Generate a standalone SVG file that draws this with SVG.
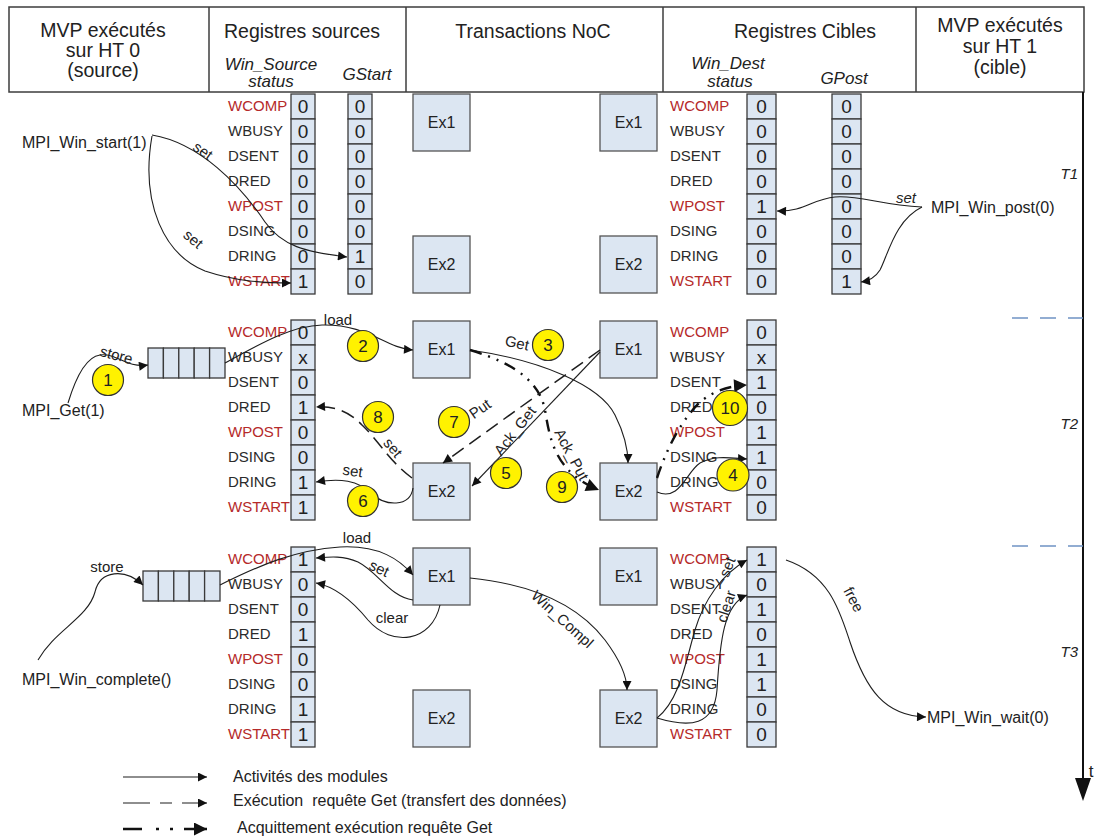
<svg xmlns="http://www.w3.org/2000/svg" width="1094" height="836" viewBox="0 0 1094 836">
<style>
.bg{fill:#fff}
.hdr{fill:#fff;stroke:#3c3c3c;stroke-width:1.5}
.ht{font-family:"Liberation Sans",Arial,sans-serif;font-size:19.5px;fill:#222;text-anchor:middle}
.hi{font-family:"Liberation Sans",Arial,sans-serif;font-size:17px;font-style:italic;fill:#222;text-anchor:middle}
.cell{fill:#DCE6F2;stroke:#3a3a3a;stroke-width:1.3}
.v{font-family:"Liberation Sans",Arial,sans-serif;font-size:19px;fill:#222;text-anchor:middle}
.lb{font-family:"Liberation Sans",Arial,sans-serif;font-size:15px;fill:#2b2b2b}
.r{fill:#B52A2A}
.ex{fill:#DCE6F2;stroke:#555;stroke-width:1.3}
.et{font-family:"Liberation Sans",Arial,sans-serif;font-size:16px;fill:#222;text-anchor:middle}
.t{font-family:"Liberation Sans",Arial,sans-serif;font-size:16px;fill:#222}
.tc{font-family:"Liberation Sans",Arial,sans-serif;font-size:15px;fill:#222;text-anchor:middle}
.ti{font-family:"Liberation Sans",Arial,sans-serif;font-size:15px;font-style:italic;fill:#222}
.c{fill:none;stroke:#1e1e1e;stroke-width:1.1}
.d{fill:none;stroke:#1e1e1e;stroke-width:1.5;stroke-dasharray:14 7}
.dd{fill:none;stroke:#111;stroke-width:2.4;stroke-dasharray:12 7 2 7 2 7}
.num{fill:#FFF200;stroke:#333;stroke-width:1.2}
.nt{font-family:"Liberation Sans",Arial,sans-serif;font-size:17px;fill:#222;text-anchor:middle}
.sep{stroke:#6F93C4;stroke-width:1.5;stroke-dasharray:16 12}
.lg{font-family:"Liberation Sans",Arial,sans-serif;font-size:16px;fill:#222;white-space:pre}
</style>
<defs>
<marker id="a" viewBox="0 0 10 10" refX="10" refY="5" markerWidth="11" markerHeight="9" orient="auto" markerUnits="userSpaceOnUse"><path d="M0,0 L10,5 L0,10 z" fill="#111"/></marker>
<marker id="b" viewBox="0 0 10 10" refX="10" refY="5" markerWidth="16" markerHeight="13" orient="auto" markerUnits="userSpaceOnUse"><path d="M0,0 L10,5 L0,10 z" fill="#111"/></marker>
</defs>
<rect class="bg" x="0" y="0" width="1094" height="836"/>

<g id="header">
<rect class="hdr" x="9" y="7" width="1075" height="85"/>
<line x1="209" y1="7" x2="209" y2="92" stroke="#3c3c3c" stroke-width="1.5"/>
<line x1="406" y1="7" x2="406" y2="92" stroke="#3c3c3c" stroke-width="1.5"/>
<line x1="663" y1="7" x2="663" y2="92" stroke="#3c3c3c" stroke-width="1.5"/>
<line x1="916" y1="7" x2="916" y2="92" stroke="#3c3c3c" stroke-width="1.5"/>
<text class="ht" x="103" y="37">MVP exécutés</text>
<text class="ht" x="103" y="57">sur HT 0</text>
<text class="ht" x="103" y="77">(source)</text>
<text class="ht" x="302" y="38">Registres sources</text>
<text class="hi" x="271" y="70">Win_Source</text>
<text class="hi" x="271" y="87">status</text>
<text class="hi" x="367" y="80">GStart</text>
<text class="ht" x="533" y="38">Transactions NoC</text>
<text class="ht" x="805" y="38">Registres Cibles</text>
<text class="hi" x="728" y="69">Win_Dest</text>
<text class="hi" x="730" y="87">status</text>
<text class="hi" x="844" y="84">GPost</text>
<text class="ht" x="1000" y="32">MVP exécutés</text>
<text class="ht" x="1000" y="53">sur HT 1</text>
<text class="ht" x="1000" y="74">(cible)</text>
</g>

<g id="timeaxis">
<line x1="1083" y1="92" x2="1083" y2="782" stroke="#111" stroke-width="2"/>
<polygon points="1075,778 1091,778 1083,801" fill="#111"/>
<text class="ht" x="1091" y="777" style="font-size:17px">t</text>
<line class="sep" x1="1012" y1="318" x2="1083" y2="318"/>
<line class="sep" x1="1012" y1="546" x2="1083" y2="546"/>
<text class="ti" x="1078" y="179" text-anchor="end">T1</text>
<text class="ti" x="1078" y="429" text-anchor="end">T2</text>
<text class="ti" x="1078" y="657" text-anchor="end">T3</text>
</g>

<!-- ============ T1 ============ -->
<g id="t1-src-labels">
<text class="lb r" x="228" y="111">WCOMP</text>
<text class="lb" x="228" y="136">WBUSY</text>
<text class="lb" x="228" y="161">DSENT</text>
<text class="lb" x="228" y="186">DRED</text>
<text class="lb r" x="228" y="211">WPOST</text>
<text class="lb" x="228" y="236">DSING</text>
<text class="lb" x="228" y="261">DRING</text>
<text class="lb r" x="228" y="286">WSTART</text>
</g>
<g id="t1-winsource">
<rect class="cell" x="291" y="94" width="24" height="25"/><text class="v" x="303" y="113">0</text>
<rect class="cell" x="291" y="119" width="24" height="25"/><text class="v" x="303" y="138">0</text>
<rect class="cell" x="291" y="144" width="24" height="25"/><text class="v" x="303" y="163">0</text>
<rect class="cell" x="291" y="169" width="24" height="25"/><text class="v" x="303" y="188">0</text>
<rect class="cell" x="291" y="194" width="24" height="25"/><text class="v" x="303" y="213">0</text>
<rect class="cell" x="291" y="219" width="24" height="25"/><text class="v" x="303" y="238">0</text>
<rect class="cell" x="291" y="244" width="24" height="25"/><text class="v" x="303" y="263">0</text>
<rect class="cell" x="291" y="269" width="24" height="25"/><text class="v" x="303" y="288">1</text>
</g>
<g id="t1-gstart">
<rect class="cell" x="348" y="94" width="24" height="25"/><text class="v" x="360" y="113">0</text>
<rect class="cell" x="348" y="119" width="24" height="25"/><text class="v" x="360" y="138">0</text>
<rect class="cell" x="348" y="144" width="24" height="25"/><text class="v" x="360" y="163">0</text>
<rect class="cell" x="348" y="169" width="24" height="25"/><text class="v" x="360" y="188">0</text>
<rect class="cell" x="348" y="194" width="24" height="25"/><text class="v" x="360" y="213">0</text>
<rect class="cell" x="348" y="219" width="24" height="25"/><text class="v" x="360" y="238">0</text>
<rect class="cell" x="348" y="244" width="24" height="25"/><text class="v" x="360" y="263">1</text>
<rect class="cell" x="348" y="269" width="24" height="25"/><text class="v" x="360" y="288">0</text>
</g>
<g id="t1-ex1-src"><rect class="ex" x="413" y="94" width="57" height="57"/><text class="et" x="441.5" y="128">Ex1</text></g>
<g id="t1-ex2-src"><rect class="ex" x="413" y="236" width="57" height="57"/><text class="et" x="441.5" y="270">Ex2</text></g>
<g id="t1-ex1-dst"><rect class="ex" x="600" y="94" width="57" height="57"/><text class="et" x="628.5" y="128">Ex1</text></g>
<g id="t1-ex2-dst"><rect class="ex" x="600" y="236" width="57" height="57"/><text class="et" x="628.5" y="270">Ex2</text></g>
<g id="t1-dst-labels">
<text class="lb r" x="670" y="111">WCOMP</text>
<text class="lb" x="670" y="136">WBUSY</text>
<text class="lb" x="670" y="161">DSENT</text>
<text class="lb" x="670" y="186">DRED</text>
<text class="lb r" x="670" y="211">WPOST</text>
<text class="lb" x="670" y="236">DSING</text>
<text class="lb" x="670" y="261">DRING</text>
<text class="lb r" x="670" y="286">WSTART</text>
</g>
<g id="t1-windest">
<rect class="cell" x="747" y="94" width="29" height="25"/><text class="v" x="761.5" y="113">0</text>
<rect class="cell" x="747" y="119" width="29" height="25"/><text class="v" x="761.5" y="138">0</text>
<rect class="cell" x="747" y="144" width="29" height="25"/><text class="v" x="761.5" y="163">0</text>
<rect class="cell" x="747" y="169" width="29" height="25"/><text class="v" x="761.5" y="188">0</text>
<rect class="cell" x="747" y="194" width="29" height="25"/><text class="v" x="761.5" y="213">1</text>
<rect class="cell" x="747" y="219" width="29" height="25"/><text class="v" x="761.5" y="238">0</text>
<rect class="cell" x="747" y="244" width="29" height="25"/><text class="v" x="761.5" y="263">0</text>
<rect class="cell" x="747" y="269" width="29" height="25"/><text class="v" x="761.5" y="288">0</text>
</g>
<g id="t1-gpost">
<rect class="cell" x="832" y="94" width="29" height="25"/><text class="v" x="846.5" y="113">0</text>
<rect class="cell" x="832" y="119" width="29" height="25"/><text class="v" x="846.5" y="138">0</text>
<rect class="cell" x="832" y="144" width="29" height="25"/><text class="v" x="846.5" y="163">0</text>
<rect class="cell" x="832" y="169" width="29" height="25"/><text class="v" x="846.5" y="188">0</text>
<rect class="cell" x="832" y="194" width="29" height="25"/><text class="v" x="846.5" y="213">0</text>
<rect class="cell" x="832" y="219" width="29" height="25"/><text class="v" x="846.5" y="238">0</text>
<rect class="cell" x="832" y="244" width="29" height="25"/><text class="v" x="846.5" y="263">0</text>
<rect class="cell" x="832" y="269" width="29" height="25"/><text class="v" x="846.5" y="288">1</text>
</g>
<g id="t1-mpi-start"><text class="t" x="22" y="148">MPI_Win_start(1)</text></g>
<g id="t1-mpi-post"><text class="t" x="931" y="213">MPI_Win_post(0)</text></g>

<!-- ============ T2 ============ -->
<g id="t2-src-labels">
<text class="lb r" x="228" y="337">WCOMP</text>
<text class="lb" x="228" y="362">WBUSY</text>
<text class="lb" x="228" y="387">DSENT</text>
<text class="lb" x="228" y="412">DRED</text>
<text class="lb r" x="228" y="437">WPOST</text>
<text class="lb" x="228" y="462">DSING</text>
<text class="lb" x="228" y="487">DRING</text>
<text class="lb r" x="228" y="512">WSTART</text>
</g>
<g id="t2-winsource">
<rect class="cell" x="291" y="320" width="24" height="25"/><text class="v" x="303" y="339">0</text>
<rect class="cell" x="291" y="345" width="24" height="25"/><text class="v" x="303" y="364">x</text>
<rect class="cell" x="291" y="370" width="24" height="25"/><text class="v" x="303" y="389">0</text>
<rect class="cell" x="291" y="395" width="24" height="25"/><text class="v" x="303" y="414">1</text>
<rect class="cell" x="291" y="420" width="24" height="25"/><text class="v" x="303" y="439">0</text>
<rect class="cell" x="291" y="445" width="24" height="25"/><text class="v" x="303" y="464">0</text>
<rect class="cell" x="291" y="470" width="24" height="25"/><text class="v" x="303" y="489">1</text>
<rect class="cell" x="291" y="495" width="24" height="25"/><text class="v" x="303" y="514">1</text>
</g>
<g id="t2-queue">
<rect class="cell" x="148" y="348" width="15.4" height="30"/>
<rect class="cell" x="163.4" y="348" width="15.4" height="30"/>
<rect class="cell" x="178.8" y="348" width="15.4" height="30"/>
<rect class="cell" x="194.2" y="348" width="15.4" height="30"/>
<rect class="cell" x="209.6" y="348" width="15.4" height="30"/>
</g>
<g id="t2-ex1-src"><rect class="ex" x="413" y="321" width="57" height="57"/><text class="et" x="441.5" y="355">Ex1</text></g>
<g id="t2-ex2-src"><rect class="ex" x="413" y="463" width="57" height="57"/><text class="et" x="441.5" y="497">Ex2</text></g>
<g id="t2-ex1-dst"><rect class="ex" x="600" y="321" width="57" height="57"/><text class="et" x="628.5" y="355">Ex1</text></g>
<g id="t2-ex2-dst"><rect class="ex" x="600" y="463" width="57" height="57"/><text class="et" x="628.5" y="497">Ex2</text></g>
<g id="t2-dst-labels">
<text class="lb r" x="670" y="337">WCOMP</text>
<text class="lb" x="670" y="362">WBUSY</text>
<text class="lb" x="670" y="387">DSENT</text>
<text class="lb" x="670" y="412">DRED</text>
<text class="lb r" x="670" y="437">WPOST</text>
<text class="lb" x="670" y="462">DSING</text>
<text class="lb" x="670" y="487">DRING</text>
<text class="lb r" x="670" y="512">WSTART</text>
</g>
<g id="t2-windest">
<rect class="cell" x="747" y="320" width="29" height="25"/><text class="v" x="761.5" y="339">0</text>
<rect class="cell" x="747" y="345" width="29" height="25"/><text class="v" x="761.5" y="364">x</text>
<rect class="cell" x="747" y="370" width="29" height="25"/><text class="v" x="761.5" y="389">1</text>
<rect class="cell" x="747" y="395" width="29" height="25"/><text class="v" x="761.5" y="414">0</text>
<rect class="cell" x="747" y="420" width="29" height="25"/><text class="v" x="761.5" y="439">1</text>
<rect class="cell" x="747" y="445" width="29" height="25"/><text class="v" x="761.5" y="464">1</text>
<rect class="cell" x="747" y="470" width="29" height="25"/><text class="v" x="761.5" y="489">0</text>
<rect class="cell" x="747" y="495" width="29" height="25"/><text class="v" x="761.5" y="514">0</text>
</g>
<g id="t2-mpi-get"><text class="t" x="22" y="416">MPI_Get(1)</text></g>

<!-- ============ T3 ============ -->
<g id="t3-src-labels">
<text class="lb r" x="228" y="564">WCOMP</text>
<text class="lb" x="228" y="589">WBUSY</text>
<text class="lb" x="228" y="614">DSENT</text>
<text class="lb" x="228" y="639">DRED</text>
<text class="lb r" x="228" y="664">WPOST</text>
<text class="lb" x="228" y="689">DSING</text>
<text class="lb" x="228" y="714">DRING</text>
<text class="lb r" x="228" y="739">WSTART</text>
</g>
<g id="t3-winsource">
<rect class="cell" x="291" y="547" width="24" height="25"/><text class="v" x="303" y="566">1</text>
<rect class="cell" x="291" y="572" width="24" height="25"/><text class="v" x="303" y="591">0</text>
<rect class="cell" x="291" y="597" width="24" height="25"/><text class="v" x="303" y="616">0</text>
<rect class="cell" x="291" y="622" width="24" height="25"/><text class="v" x="303" y="641">1</text>
<rect class="cell" x="291" y="647" width="24" height="25"/><text class="v" x="303" y="666">0</text>
<rect class="cell" x="291" y="672" width="24" height="25"/><text class="v" x="303" y="691">0</text>
<rect class="cell" x="291" y="697" width="24" height="25"/><text class="v" x="303" y="716">1</text>
<rect class="cell" x="291" y="722" width="24" height="25"/><text class="v" x="303" y="741">1</text>
</g>
<g id="t3-queue">
<rect class="cell" x="143" y="571" width="15.4" height="30"/>
<rect class="cell" x="158.4" y="571" width="15.4" height="30"/>
<rect class="cell" x="173.8" y="571" width="15.4" height="30"/>
<rect class="cell" x="189.2" y="571" width="15.4" height="30"/>
<rect class="cell" x="204.6" y="571" width="15.4" height="30"/>
</g>
<g id="t3-ex1-src"><rect class="ex" x="413" y="548" width="57" height="57"/><text class="et" x="441.5" y="582">Ex1</text></g>
<g id="t3-ex2-src"><rect class="ex" x="413" y="690" width="57" height="57"/><text class="et" x="441.5" y="724">Ex2</text></g>
<g id="t3-ex1-dst"><rect class="ex" x="600" y="548" width="57" height="57"/><text class="et" x="628.5" y="582">Ex1</text></g>
<g id="t3-ex2-dst"><rect class="ex" x="600" y="690" width="57" height="57"/><text class="et" x="628.5" y="724">Ex2</text></g>
<g id="t3-dst-labels">
<text class="lb r" x="670" y="564">WCOMP</text>
<text class="lb" x="670" y="589">WBUSY</text>
<text class="lb" x="670" y="614">DSENT</text>
<text class="lb" x="670" y="639">DRED</text>
<text class="lb r" x="670" y="664">WPOST</text>
<text class="lb" x="670" y="689">DSING</text>
<text class="lb" x="670" y="714">DRING</text>
<text class="lb r" x="670" y="739">WSTART</text>
</g>
<g id="t3-windest">
<rect class="cell" x="747" y="547" width="29" height="25"/><text class="v" x="761.5" y="566">1</text>
<rect class="cell" x="747" y="572" width="29" height="25"/><text class="v" x="761.5" y="591">0</text>
<rect class="cell" x="747" y="597" width="29" height="25"/><text class="v" x="761.5" y="616">1</text>
<rect class="cell" x="747" y="622" width="29" height="25"/><text class="v" x="761.5" y="641">0</text>
<rect class="cell" x="747" y="647" width="29" height="25"/><text class="v" x="761.5" y="666">1</text>
<rect class="cell" x="747" y="672" width="29" height="25"/><text class="v" x="761.5" y="691">1</text>
<rect class="cell" x="747" y="697" width="29" height="25"/><text class="v" x="761.5" y="716">0</text>
<rect class="cell" x="747" y="722" width="29" height="25"/><text class="v" x="761.5" y="741">0</text>
</g>
<g id="t3-mpi-complete"><text class="t" x="22" y="685">MPI_Win_complete()</text></g>
<g id="t3-mpi-wait"><text class="t" x="927" y="723">MPI_Win_wait(0)</text></g>

<!-- ============ connectors ============ -->
<g id="connectors">
<!-- T1 -->
<path class="c" d="M152,135 C200,143 240,185 265,222 C282,246 305,252 347,257" marker-end="url(#a)"/>
<path class="c" d="M152,136 C140,205 165,255 205,271 C235,281 262,283 291,283" marker-end="url(#a)"/>
<path class="c" d="M922,207 C880,205 860,195 835,197 C812,199 805,212 777,211" marker-end="url(#a)"/>
<path class="c" d="M922,207 C895,220 888,255 880,270 C875,278 868,281 861,282" marker-end="url(#a)"/>
<!-- T2 -->
<path class="c" d="M68,403 C75,380 85,357 100,355 C118,353 125,368 148,365" marker-end="url(#a)"/>
<path class="c" d="M225,363 C258,345 290,326 322,325 C368,324 385,348 413,350" marker-end="url(#a)"/>
<path class="c" d="M470,350 C540,360 600,385 615,415 C625,435 628,450 628,463" marker-end="url(#a)"/>
<path class="dd" d="M470,350 C520,365 540,385 545,410 C550,440 555,472 599,490" marker-end="url(#b)"/>
<path class="d" d="M600,350 L443,463" marker-end="url(#a)"/>
<path class="c" d="M600,352 L472,486" marker-end="url(#a)"/>
<path class="d" d="M412,478 C390,462 378,440 362,425 C348,410 332,406 316,407" marker-end="url(#a)"/>
<path class="c" d="M413,488 C410,508 385,506 372,494 C358,480 340,478 316,482" marker-end="url(#a)"/>
<path class="c" d="M657,492 C680,502 686,472 700,463 C715,455 730,458 747,459" marker-end="url(#a)"/>
<path class="dd" d="M657,478 C668,445 682,420 700,402 C715,390 730,386 747,385" marker-end="url(#b)"/>
<!-- T3 -->
<path class="c" d="M38,660 C55,630 88,618 95,592 C100,570 125,568 143,585" marker-end="url(#a)"/>
<path class="c" d="M220,585 C260,565 295,550 340,547 C380,545 400,560 413,575" marker-end="url(#a)"/>
<path class="c" d="M413,600 C390,597 378,572 358,562 C342,555 328,557 316,558" marker-end="url(#a)"/>
<path class="c" d="M440,605 C432,642 392,648 368,620 C350,598 332,586 316,583" marker-end="url(#a)"/>
<path class="c" d="M470,578 C540,585 582,610 605,640 C620,660 627,675 627,690" marker-end="url(#a)"/>
<path class="c" d="M657,718 C680,700 686,660 695,630 C704,600 722,574 747,560" marker-end="url(#a)"/>
<path class="c" d="M657,718 C690,728 714,726 717,690 C720,640 724,604 747,595" marker-end="url(#a)"/>
<path class="c" d="M786,560 C830,575 840,612 850,642 C866,690 885,716 926,717" marker-end="url(#a)"/>
</g>

<g id="connector-labels">
<text class="tc" transform="translate(200,155) rotate(35)">set</text>
<text class="tc" transform="translate(190,243) rotate(40)">set</text>
<text class="ti" x="896" y="203">set</text>
<text class="tc" transform="translate(115,360) rotate(15)">store</text>
<text class="tc" x="338" y="325">load</text>
<text class="tc" transform="translate(516,348) rotate(12)">Get</text>
<text class="tc" transform="translate(483,413) rotate(-35)">Put</text>
<text class="tc" transform="translate(519,434) rotate(-52)">Ack_Get</text>
<text class="tc" transform="translate(567,457) rotate(62)">Ack_Put</text>
<text class="tc" transform="translate(389,451) rotate(50)">set</text>
<text class="tc" transform="translate(352,476) rotate(8)">set</text>
<text class="tc" x="107" y="572">store</text>
<text class="tc" x="357" y="543">load</text>
<text class="tc" transform="translate(377,573) rotate(25)">set</text>
<text class="tc" x="392" y="623">clear</text>
<text class="tc" transform="translate(559,623) rotate(42)">Win_Compl</text>
<text class="tc" transform="translate(732,569) rotate(-68)">set</text>
<text class="tc" transform="translate(731,608) rotate(-72)">clear</text>
<text class="tc" transform="translate(849,602) rotate(62)">free</text>
</g>

<g id="steps">
<circle class="num" cx="108" cy="380" r="15.5"/><text class="nt" x="108" y="386">1</text>
<circle class="num" cx="363" cy="346" r="15.5"/><text class="nt" x="363" y="352">2</text>
<circle class="num" cx="548" cy="345" r="15.5"/><text class="nt" x="548" y="351">3</text>
<circle class="num" cx="733" cy="475" r="16"/><text class="nt" x="733" y="481">4</text>
<circle class="num" cx="506" cy="473" r="15.5"/><text class="nt" x="506" y="479">5</text>
<circle class="num" cx="363" cy="501" r="15.5"/><text class="nt" x="363" y="507">6</text>
<circle class="num" cx="454" cy="422" r="15.5"/><text class="nt" x="454" y="428">7</text>
<circle class="num" cx="378" cy="417" r="15.5"/><text class="nt" x="378" y="423">8</text>
<circle class="num" cx="562" cy="487" r="15.5"/><text class="nt" x="562" y="493">9</text>
<circle class="num" cx="730" cy="408" r="17.5"/><text class="nt" x="730" y="414">10</text>
</g>

<g id="legend">
<line class="c" x1="123" y1="777" x2="207" y2="777" marker-end="url(#a)"/>
<text class="lg" x="233" y="782">Activités des modules</text>
<path class="c" d="M123,803 H150 M160,803 H172 M182,803 H207" stroke-width="1.5" marker-end="url(#a)"/>
<text class="lg" x="233" y="806">Exécution  requête Get (transfert des données)</text>
<path d="M123,829 H142 M156,829 H159 M170,829 H173 M184,829 H207" fill="none" stroke="#111" stroke-width="2.6" marker-end="url(#b)"/>
<text class="lg" x="237" y="833">Acquittement exécution requête Get</text>
</g>
</svg>
